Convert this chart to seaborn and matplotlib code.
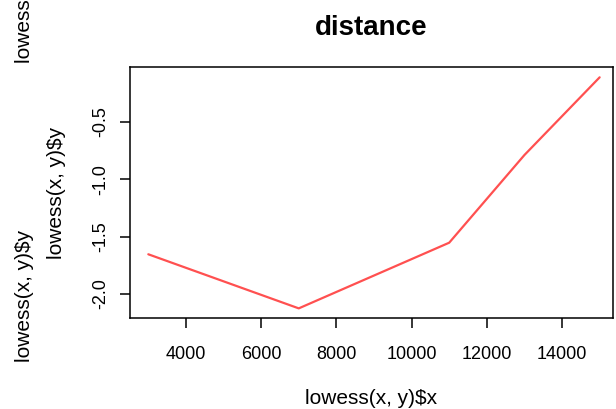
import matplotlib
matplotlib.use("Agg")
import matplotlib.pyplot as plt
import seaborn as sns
import pandas as pd

# data
x_vals = [3000, 7000, 11000, 13000, 15000]
y_vals = [-1.654, -2.126, -1.553, -0.788, -0.11]
x_ticks = [4000, 6000, 8000, 10000, 12000, 14000]
y_ticks = [-2.0, -1.5, -1.0, -0.5]
title = "distance"
x_label = "lowess(x, y)$x"
y_label = "lowess(x, y)$y"

sns.set_theme(style="white")
plt.rcParams['font.family'] = ['Liberation Sans', 'DejaVu Sans']
plt.rcParams['text.color'] = 'black'
plt.rcParams['axes.labelcolor'] = 'black'

df = pd.DataFrame({"x": x_vals, "y": y_vals})

fig = plt.figure(figsize=(6.16, 4.09), dpi=100)
ax = fig.add_axes([130/616, 1-318/409, 483/616, 251/409])

sns.lineplot(data=df, x="x", y="y", ax=ax, color="#ff5050", linewidth=1.6)

ax.set_xlim(2513, 15355)
ax.set_ylim(-2.21, -0.02)
ax.set_xticks(x_ticks)
ax.set_xticklabels([str(t) for t in x_ticks])
ax.set_yticks(y_ticks)
ax.set_yticklabels([f"{t:.1f}" for t in y_ticks], rotation=90, va="center")

for s in ax.spines.values():
    s.set_color("black")
    s.set_linewidth(1.1)

ax.tick_params(axis="x", direction="out", length=7, width=1.1, colors="black",
               labelsize=13, pad=13, bottom=True)
ax.tick_params(axis="y", direction="out", length=7, width=1.1, colors="black",
               labelsize=13, pad=8, left=True)

ax.set_xlabel(x_label, fontsize=15)
ax.set_ylabel(y_label, fontsize=15)
ax.xaxis.set_label_coords(0.5, (318-398)/251)
ax.xaxis.label.set_va("center")
ax.yaxis.set_label_coords((57-130)/483, 0.5)
ax.yaxis.label.set_va("center")

ax.set_title(title, fontsize=20, fontweight="bold", color="black",
             y=1 + 39/251, va="center", pad=0)

# stray overlapping labels at the left edge
fig.text(25/616, 1-296/409, y_label, rotation=90, ha="center", va="center", fontsize=15)
fig.text(25/616, 1-63/409, y_label, rotation=90, ha="center", va="bottom", fontsize=15)

fig.savefig("out.png", dpi=100)
